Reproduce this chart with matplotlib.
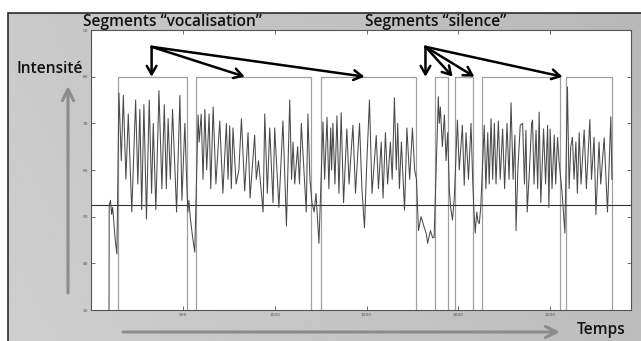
import numpy as np
import matplotlib.pyplot as plt
from matplotlib.patches import Rectangle

# intensity contour (time, value)
sig_t = [98, 99, 106, 112, 118, 124, 132, 141,
         152, 165, 176, 190, 203, 222, 243, 255, 266, 276, 288, 302, 317, 330, 339, 353,
         370, 386, 399, 410, 420, 432, 444, 466, 484, 495, 511, 519,
         527, 533, 540, 552, 565,
         583, 589, 600, 610, 620, 630, 643, 652, 665, 680, 701, 718, 737, 746, 755, 764,
         773, 790, 805, 819, 837, 855, 866, 891, 900, 912, 937, 946, 960, 973, 991, 1000,
         1023, 1045, 1064, 1082, 1092, 1100, 1109, 1125, 1135, 1145, 1172, 1181, 1192,
         1203, 1215, 1225, 1241,
         1263, 1272, 1285, 1295, 1305, 1310, 1317, 1328, 1339, 1350, 1362, 1375, 1393,
         1405, 1426, 1440, 1462, 1475, 1489, 1500, 1516, 1530, 1553, 1565, 1580, 1590,
         1603, 1615, 1630, 1640, 1652, 1662, 1670, 1679, 1690, 1707, 1720, 1735, 1750, 1762,
         1772, 1783, 1797, 1812, 1825, 1833, 1848, 1860, 1868,
         1891, 1896, 1902, 1913, 1924, 1933, 1942,
         1951, 1958, 1968, 1978,
         1995, 2005, 2022, 2032, 2042, 2055, 2069, 2078,
         2085, 2092, 2100, 2107, 2114, 2122,
         2141, 2150, 2160, 2168, 2178, 2187, 2196, 2205, 2218, 2228, 2241, 2252, 2265,
         2276, 2287, 2298, 2308, 2314, 2324, 2337, 2350, 2360, 2368, 2375, 2387, 2399,
         2404, 2412, 2423, 2432, 2440, 2449, 2464, 2475, 2486, 2493, 2500, 2510, 2522,
         2530, 2540, 2548,
         2565, 2580,
         2594, 2603, 2612, 2621, 2630, 2640, 2648, 2658, 2668, 2685, 2697, 2716, 2725,
         2739, 2749, 2766, 2775, 2794, 2812, 2830, 2836]
sig_v = [30, 52.5, 53.5, 50.5, 52, 49, 45, 42,
         76.5, 62, 76, 58, 72, 51, 75, 57, 73, 51.5, 74, 49.5, 75, 55, 70, 51.5,
         77, 56, 74, 56, 71, 58, 73, 51, 76, 53.5, 70, 60,
         51, 53.5, 50, 46, 42.4,
         71.8, 66, 72, 58, 73, 60, 72, 56, 73.5, 57, 70.5, 55, 70, 58, 69.5, 56,
         69, 57, 60, 71, 55.5, 68, 54, 67.5, 58, 62, 51, 72, 55, 69, 53, 69,
         52, 70.5, 48, 75, 58, 66, 57, 65, 57, 70, 51, 72, 58,
         53, 51, 55, 44.3,
         70.3, 58, 71.3, 56, 69, 60, 70, 57, 71.6, 55, 72.3, 53, 68.8,
         57, 69.6, 55, 70, 56, 47.6, 60, 75, 55, 67.4, 56, 66, 54,
         68, 57, 66, 58, 75.5, 60, 70, 56, 66, 51.4, 69, 58, 69, 60,
         58, 47, 50, 48, 46.4, 44.3, 47, 45.5, 45.5,
         75.7, 70, 73.5, 65, 71.8, 62, 68,
         55.7, 52, 49.3, 54,
         70.7, 60, 69.6, 56.7, 68, 58, 70, 58,
         51, 46.5, 51, 49, 48.5, 52,
         69.6, 56, 68, 57, 71, 58, 70, 57, 70.5, 58, 68.8, 56, 70,
         58, 74.4, 58, 67.5, 47, 60, 69.6, 70, 57, 68.5, 51, 60, 70,
         70.7, 57, 68.5, 56, 72.4, 53, 68.8, 57, 69.6, 52, 68.8, 56, 67.5,
         57, 67, 62,
         55, 46.5,
         77.8, 56, 65, 67, 58, 66, 55, 68, 57, 68.6, 56, 70.8, 58,
         67, 50.4, 66, 57, 66.9, 51, 71.4, 58]

# voiced segments (start, end)
seg_start = [145, 571, 1252, 1871, 1984, 2129, 2585]
seg_end = [523, 1196, 1770, 1946, 2082, 2553, 2839]
seg_top = 80
threshold = 52.5

x_ticks = [500, 1000, 1500, 2000, 2500]
y_ticks = [30, 40, 50, 60, 70, 80, 90]

fig = plt.figure(figsize=(6.41, 3.41), dpi=100)
fig.patch.set_facecolor('white')

# grey slide panel behind the plot
bg = fig.add_axes([0, 0, 1, 1], zorder=-5)
bg.set_axis_off()
gx = np.linspace(0, 1, 200)
gy = np.linspace(0, 1, 120)
GX, GY = np.meshgrid(gx, gy)
shade = 0.79 - 0.07 * GX + 0.02 * (1 - GY)
bg.imshow(shade, cmap='gray', vmin=0, vmax=1, extent=[8, 641, 0, 328],
          aspect='auto', origin='lower')
bg.add_patch(Rectangle((8, -10), 650, 338, fill=False, edgecolor='#2a2a2a', lw=1.2))
bg.set_xlim(0, 641)
bg.set_ylim(0, 341)

ax = fig.add_axes([91 / 641, 1 - 310 / 341, 540 / 641, 280 / 341])
ax.set_facecolor('white')

for s, e in zip(seg_start, seg_end):
    ax.plot([s, s, e, e], [30, seg_top, seg_top, 30], color='#a0a0a0', lw=0.9)

ax.axhline(threshold, color='#303030', lw=0.8)
ax.plot(sig_t, sig_v, color='#4a4a4a', lw=0.75)

ax.set_xlim(0, 2940)
ax.set_ylim(30, 90)
ax.set_xticks(x_ticks)
ax.set_yticks(y_ticks)
ax.tick_params(direction='in', length=3, width=0.6, labelsize=3.2,
               top=True, right=True, pad=2, colors='#555555')
for sp in ax.spines.values():
    sp.set_color('#555555')
    sp.set_linewidth(0.8)

# arrows pointing to the segments
arrow_kw = dict(arrowstyle='->, head_length=0.6, head_width=0.35', color='black',
                lw=1.8, shrinkA=0, shrinkB=0)
for tx in [330, 837, 1489]:
    ax.annotate('', xy=(tx, 80), xytext=(330, 86.4), arrowprops=arrow_kw)
for tx in [1821, 1969, 2087, 2567]:
    ax.annotate('', xy=(tx, 80), xytext=(1821, 86.4), arrowprops=arrow_kw)

font = 'Open Sans'
txt_kw = dict(ha='center', va='center', fontsize=11.2, family=font,
              fontweight='semibold', color='#111111')
fig.text(172 / 641, 1 - 22 / 341, 'Segments \u201cvocalisation\u201d', **txt_kw)
fig.text(436 / 641, 1 - 22 / 341, 'Segments \u201csilence\u201d', **txt_kw)
fig.text(50 / 641, 1 - 69 / 341, 'Intensit\u00e9', **txt_kw)
fig.text(601 / 641, 1 - 330 / 341, 'Temps', **txt_kw)

# grey axis arrows on the panel
grey_kw = dict(arrowstyle='->, head_length=0.8, head_width=0.4', color='#8c8c8c',
               lw=2.2, shrinkA=0, shrinkB=0)
bg.annotate('', xy=(68, 341 - 86), xytext=(68, 341 - 293), arrowprops=grey_kw)
bg.annotate('', xy=(560, 341 - 332), xytext=(123, 341 - 332), arrowprops=grey_kw)

fig.savefig('out.png', dpi=100)
